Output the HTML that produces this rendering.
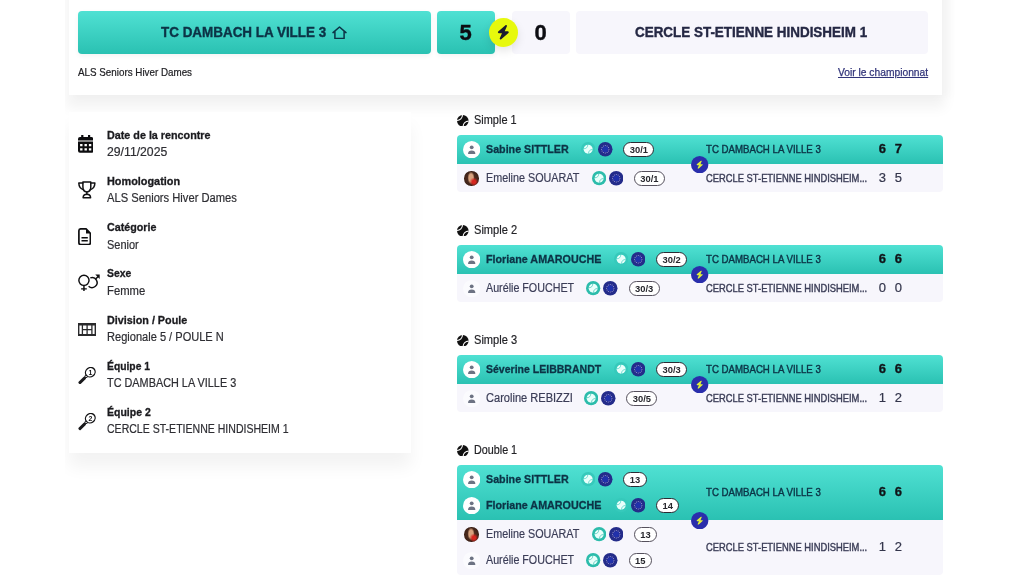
<!DOCTYPE html>
<html lang="fr">
<head>
<meta charset="utf-8">
<title>Rencontre</title>
<style>
*{box-sizing:border-box;margin:0;padding:0}
html,body{width:1024px;height:586px;overflow:hidden;background:#fff}
body{font-family:"Liberation Sans",sans-serif;position:relative}
.abs{position:absolute}
.grp{position:absolute;left:0;top:0;width:0;height:0}
h1,h3,b,strong,small,a{font:inherit}
.tx{white-space:nowrap;line-height:normal;transform-origin:0 0}
.clip{left:64.5px;top:0;width:890px;height:586px;overflow:hidden}
.topcard{left:4.1px;top:-30px;width:873.6px;height:124.5px;background:#fff;box-shadow:0 10px 12px 3px rgba(0,0,0,.05),8px 0 8px 2px rgba(0,0,0,.02)}
.leftcard{left:4.1px;top:112.1px;width:342px;height:341.3px;background:#fff;box-shadow:0 14px 16px 0 rgba(0,0,0,.05)}
.grad{background:linear-gradient(180deg,#50e1d3 0%,#2ac1b2 100%)}
.light{background:#f7f6fc}
.tbox{top:10.8px;height:42.8px;border-radius:4px}
.sh{box-shadow:0 2px 5px rgba(0,0,0,.05)}
.vsbig{left:488.6px;top:17.6px;width:29.6px;height:29.6px;border-radius:50%;background:#e7f90d;box-shadow:0 4px 10px rgba(0,0,0,.10)}
.pill{border:1px solid #333;border-radius:8px;background:#fff;font-size:9.4px;font-weight:bold;color:#26262c;text-align:center;line-height:13.4px;letter-spacing:0}
</style>
</head>
<body>
<div class="abs clip"><div class="abs topcard"></div><div class="abs leftcard"></div></div>
<header class="grp scoreboard">
<div class="abs tbox grad sh" style="left:78px;width:353px"></div>
<h1 class="abs tx" style="left:161.20px;top:23.00px;font-size:15px;font-weight:bold;color:#0c3346;transform:scaleX(0.8957);-webkit-text-stroke:0.4px #0c3346;">TC DAMBACH LA VILLE 3</h1>
<svg class="abs" style="left:332.4px;top:25.6px" width="15" height="13.4" viewBox="0 0 15 13.4"><path d="M1 6.6 7.5 1 14 6.6M2.9 5.4v7.1h9.2V5.4" fill="none" stroke="#0c3346" stroke-width="1.5" stroke-linejoin="round" stroke-linecap="round"/></svg>
<div class="abs tbox grad sh" style="left:437px;width:57.5px"></div>
<strong class="abs tx" style="left:459.60px;top:20.00px;font-size:22px;font-weight:bold;color:#0d0d12;-webkit-text-stroke:0.4px #0d0d12;">5</strong>
<div class="abs tbox light" style="left:512px;width:58px"></div>
<strong class="abs tx" style="left:534.60px;top:20.00px;font-size:22px;font-weight:bold;color:#0d0d12;-webkit-text-stroke:0.4px #0d0d12;">0</strong>
<div class="abs vsbig"></div>
<svg class="abs" style="left:496.9px;top:25.2px" width="12.7" height="14.5" viewBox="0 0 448 512"><path d="M349.4 44.600c5.900-13.700 1.500-29.700-10.600-38.500s-28.600-8-39.900 1.800l-256 224c-10 8.800-13.600 22.900-8.900 35.300S50.700 288 64 288H175.500L98.600 467.400c-5.900 13.700-1.500 29.700 10.600 38.500s28.600 8 39.900-1.800l256-224c10-8.800 13.600-22.900 8.900-35.300s-16.600-20.700-30-20.700H272.500L349.400 44.600z" fill="#1b1b2f"/></svg>
<div class="abs tbox light" style="left:576px;width:352px"></div>
<h1 class="abs tx" style="left:635.00px;top:23.00px;font-size:15px;font-weight:bold;color:#252844;transform:scaleX(0.8955);-webkit-text-stroke:0.4px #252844;">CERCLE ST-ETIENNE HINDISHEIM 1</h1>
<small class="abs tx" style="left:77.90px;top:66.00px;font-size:10.5px;font-weight:normal;color:#202024;transform:scaleX(0.9350);-webkit-text-stroke:0.2px #202024;">ALS Seniors Hiver Dames</small>
<a class="abs tx" style="left:837.80px;top:66.00px;font-size:10.5px;font-weight:normal;color:#32357a;transform:scaleX(0.9772);text-decoration:underline;text-underline-offset:1px;-webkit-text-stroke:.25px #32357a">Voir le championnat</a>
</header>
<aside class="grp details">
<div class="grp info">
<svg class="abs" style="left:78px;top:135px" width="15.4" height="17.8" viewBox="0 0 15.4 17.8"><path d="M3.2 0h2.200v2.100h4.600V0h2.200v2.100h1.200a2 2 0 0 1 2 2v1.300H0V4.100a2 2 0 0 1 2-2h1.200zM0 6.5h15.4v9.3a2 2 0 0 1-2 2H2a2 2 0 0 1-2-2zM2.1 9v2.3h2.4V9zm4.4 0v2.3h2.4V9zm4.4 0v2.3h2.4V9zM2.1 13.2v2.3h2.4v-2.3zm4.4 0v2.3h2.4v-2.3zm4.4 0v2.3h2.4v-2.3z" fill="#0c0c0e" fill-rule="evenodd"/></svg>
<b class="abs tx" style="left:107.10px;top:128.00px;font-size:11.8px;font-weight:bold;color:#1b1b1f;transform:scaleX(0.9125);-webkit-text-stroke:0.32px #1b1b1f;">Date de la rencontre</b>
<span class="abs tx" style="left:107.10px;top:145.00px;font-size:12px;font-weight:normal;color:#2e2e33;transform:scaleX(1.0186);-webkit-text-stroke:0.2px #2e2e33;">29/11/2025</span>
</div>
<div class="grp info">
<svg class="abs" style="left:78px;top:181.4px" width="17.6" height="17.6" viewBox="0 0 17.6 17.6"><g fill="none" stroke="#111113" stroke-width="1.5" stroke-linejoin="round" stroke-linecap="round"><path d="M4.9.9h7.9v4.9c0 3-1.6 5.1-3.95 5.1S4.9 8.800 4.900 5.800z"/><path d="M4.900 2.100H.8c.1 3.400 1.700 5.800 4.700 6.600M12.800 2.100h4.100c-.1 3.400-1.700 5.800-4.700 6.600"/><path d="M8.850 10.900v2.500"/><path d="M5.100 16.800c.1-2 1.700-3.500 3.750-3.500s3.650 1.500 3.750 3.500z"/></g></svg>
<b class="abs tx" style="left:107.10px;top:174.00px;font-size:11.8px;font-weight:bold;color:#1b1b1f;transform:scaleX(0.9218);-webkit-text-stroke:0.32px #1b1b1f;">Homologation</b>
<span class="abs tx" style="left:107.10px;top:191.00px;font-size:12px;font-weight:normal;color:#2e2e33;transform:scaleX(0.9320);-webkit-text-stroke:0.2px #2e2e33;">ALS Seniors Hiver Dames</span>
</div>
<div class="grp info">
<svg class="abs" style="left:78px;top:227.6px" width="13.4" height="17.6" viewBox="0 0 13.4 17.6"><path d="M2.600.95h5.500l4.300 4.300v9.400a2 2 0 0 1-2 2H2.900a2 2 0 0 1-2-2V2.850a1.900 1.900 0 0 1 1.700-1.900z" fill="none" stroke="#0e0e10" stroke-width="1.7" stroke-linejoin="round"/><path d="M8 1v4.400h4.400z" fill="#0e0e10"/><path d="M3.500 9.700h6.300M3.500 12.800h6.300" stroke="#0e0e10" stroke-width="1.5" fill="none"/></svg>
<b class="abs tx" style="left:107.10px;top:220.00px;font-size:11.8px;font-weight:bold;color:#1b1b1f;transform:scaleX(0.9079);-webkit-text-stroke:0.32px #1b1b1f;">Catégorie</b>
<span class="abs tx" style="left:107.10px;top:238.00px;font-size:12px;font-weight:normal;color:#2e2e33;transform:scaleX(0.9138);-webkit-text-stroke:0.2px #2e2e33;">Senior</span>
</div>
<div class="grp info">
<svg class="abs" style="left:78px;top:273.6px" width="22.6" height="17.6" viewBox="0 0 22.600 17.600"><g fill="none" stroke="#0e0e10" stroke-width="1.45"><circle cx="5.950" cy="6.300" r="5.100"/><path d="M5.950 11.400v5.900M3.100 14.900h5.700"/><path d="M12.300 3.900a5 5 0 1 1-1.700 8.300"/><path d="M17.700 4.900 20.600 1.900"/></g><path d="M17.300.6h4.400v4.500z" fill="#0e0e10"/></svg>
<b class="abs tx" style="left:107.10px;top:266.00px;font-size:11.8px;font-weight:bold;color:#1b1b1f;transform:scaleX(0.8860);-webkit-text-stroke:0.32px #1b1b1f;">Sexe</b>
<span class="abs tx" style="left:107.10px;top:284.00px;font-size:12px;font-weight:normal;color:#2e2e33;transform:scaleX(0.9391);-webkit-text-stroke:0.2px #2e2e33;">Femme</span>
</div>
<div class="grp info">
<svg class="abs" style="left:77.800px;top:322.600px" width="18" height="13.300" viewBox="0 0 18 13.300"><rect x=".7" y="1.200" width="16.600" height="10.900" fill="none" stroke="#2a2a2c" stroke-width="1.400"/><path d="M0 1.200h18M0 12.100h18" stroke="#2a2a2c" stroke-width="2.400"/><path d="M4.400 1v11.300M9.100 1v11.300M13.900 1v11.300M4.400 6.650h9.500" stroke="#2a2a2c" stroke-width="1.300" fill="none"/></svg>
<b class="abs tx" style="left:107.10px;top:313.00px;font-size:11.8px;font-weight:bold;color:#1b1b1f;transform:scaleX(0.9130);-webkit-text-stroke:0.32px #1b1b1f;">Division / Poule</b>
<span class="abs tx" style="left:107.10px;top:330.00px;font-size:12px;font-weight:normal;color:#2e2e33;transform:scaleX(0.9217);-webkit-text-stroke:0.2px #2e2e33;">Regionale 5 / POULE N</span>
</div>
<div class="grp info">
<svg class="abs" style="left:78px;top:367px" width="18.400" height="17.400" viewBox="0 0 18.400 17.400"><ellipse cx="12.300" cy="5.200" rx="5.000" ry="4.500" transform="rotate(-40 12.300 5.200)" fill="none" stroke="#121214" stroke-width="1.300"/><path d="M7.500 8.000 6.300 11.300 9.600 10.000" fill="none" stroke="#121214" stroke-width="1.000" stroke-linejoin="round"/><path d="M6.500 11.100 1.900 15.600" stroke="#1a1a1c" stroke-width="2.900" stroke-linecap="round"/><text x="12.300" y="7.600" font-size="6.900" font-weight="bold" text-anchor="middle" fill="#121214">1</text></svg>
<b class="abs tx" style="left:107.10px;top:359.00px;font-size:11.8px;font-weight:bold;color:#1b1b1f;transform:scaleX(0.8750);-webkit-text-stroke:0.32px #1b1b1f;">Équipe 1</b>
<span class="abs tx" style="left:107.10px;top:376.00px;font-size:12px;font-weight:normal;color:#2e2e33;transform:scaleX(0.9053);-webkit-text-stroke:0.2px #2e2e33;">TC DAMBACH LA VILLE 3</span>
</div>
<div class="grp info">
<svg class="abs" style="left:78px;top:413.2px" width="18.400" height="17.400" viewBox="0 0 18.400 17.400"><ellipse cx="12.300" cy="5.200" rx="5.000" ry="4.500" transform="rotate(-40 12.300 5.200)" fill="none" stroke="#121214" stroke-width="1.300"/><path d="M7.500 8.000 6.300 11.300 9.600 10.000" fill="none" stroke="#121214" stroke-width="1.000" stroke-linejoin="round"/><path d="M6.500 11.100 1.900 15.600" stroke="#1a1a1c" stroke-width="2.900" stroke-linecap="round"/><text x="12.300" y="7.600" font-size="6.900" font-weight="bold" text-anchor="middle" fill="#121214">2</text></svg>
<b class="abs tx" style="left:107.10px;top:405.00px;font-size:11.8px;font-weight:bold;color:#1b1b1f;transform:scaleX(0.8891);-webkit-text-stroke:0.32px #1b1b1f;">Équipe 2</b>
<span class="abs tx" style="left:107.10px;top:422.00px;font-size:12px;font-weight:normal;color:#2e2e33;transform:scaleX(0.8786);-webkit-text-stroke:0.2px #2e2e33;">CERCLE ST-ETIENNE HINDISHEIM 1</span>
</div>
</aside>
<main class="grp matches">
<section class="grp match">
<svg class="abs" style="left:457px;top:114.9px" width="11.6" height="11.6" viewBox="0 0 24 24"><circle cx="12" cy="12" r="12" fill="#111"/><path d="M11.3 0A11.3 11.3 0 0 1 0 11.3M24 12.7A11.3 11.3 0 0 0 12.7 24" fill="none" stroke="#fff" stroke-width="2.2"/></svg>
<h3 class="abs tx" style="left:474.40px;top:113.00px;font-size:12px;font-weight:normal;color:#232327;transform:scaleX(0.9125);-webkit-text-stroke:0.2px #232327;">Simple 1</h3>
<div class="abs grad" style="left:457px;top:135.1px;width:485.6px;height:28.8px;border-radius:4px 4px 0 0"></div>
<div class="abs light" style="left:457px;top:163.9px;width:485.6px;height:28.4px;border-radius:0 0 4px 4px"></div>
<span class="abs tx" style="left:486.00px;top:142.00px;font-size:11.8px;font-weight:bold;color:#0c3346;transform:scaleX(0.9073);-webkit-text-stroke:0.32px #0c3346;">Sabine SITTLER</span>
<svg class="abs" style="left:462.7px;top:140.70000000000002px" width="17.4" height="17.4" viewBox="0 0 17.4 17.4"><circle cx="8.7" cy="8.7" r="8.7" fill="#fff"/><circle cx="8.7" cy="6.3" r="1.9" fill="#6d7383"/><path d="M5.1 12.4c0-2 1.3-3 3.6-3s3.6 1 3.6 3v.5H5.1z" fill="#6d7383"/></svg>
<svg class="abs" style="left:581.15px;top:142.25px" width="14.3" height="14.3" viewBox="0 0 14.3 14.3"><circle cx="7.15" cy="7.15" r="7.15" fill="#36c9bb"/><circle cx="7.15" cy="7.15" r="4.5" fill="#e9fffb"/><path d="M6.8 2.6A4.3 4.3 0 0 1 2.6 6.8M11.7 7.5A4.3 4.3 0 0 0 7.5 11.7" fill="none" stroke="#36c9bb" stroke-width=".8" opacity=".8"/></svg>
<svg class="abs" style="left:598.0999999999999px;top:142.15px" width="14.5" height="14.5" viewBox="0 0 14.5 14.5"><circle cx="7.25" cy="7.25" r="7.25" fill="#242c8a"/><circle cx="7.25" cy="7.25" r="3.0" fill="#2131ab"/><circle cx="7.25" cy="3.55" r=".5" fill="#a9a4e0"/><circle cx="9.10" cy="4.05" r=".5" fill="#a9a4e0"/><circle cx="10.45" cy="5.40" r=".5" fill="#a9a4e0"/><circle cx="10.95" cy="7.25" r=".5" fill="#a9a4e0"/><circle cx="10.45" cy="9.10" r=".5" fill="#a9a4e0"/><circle cx="9.10" cy="10.45" r=".5" fill="#a9a4e0"/><circle cx="7.25" cy="10.95" r=".5" fill="#a9a4e0"/><circle cx="5.40" cy="10.45" r=".5" fill="#a9a4e0"/><circle cx="4.05" cy="9.10" r=".5" fill="#a9a4e0"/><circle cx="3.55" cy="7.25" r=".5" fill="#a9a4e0"/><circle cx="4.05" cy="5.40" r=".5" fill="#a9a4e0"/><circle cx="5.40" cy="4.05" r=".5" fill="#a9a4e0"/></svg>
<div class="abs pill" style="left:623.3px;top:141.7px;width:31.2px;height:15.4px;border-color:#2b2b33">30/1</div>
<span class="abs tx" style="left:486.00px;top:171.00px;font-size:12px;font-weight:normal;color:#3b3d57;transform:scaleX(0.8988);-webkit-text-stroke:0.2px #3b3d57;">Emeline SOUARAT</span>
<div class="abs" style="left:464.15px;top:171.25px;width:14.5px;height:14.5px;border-radius:50%;background:radial-gradient(circle at 66% 72%,#d8261f 0 11%,rgba(216,38,31,0) 30%),radial-gradient(ellipse 24% 42% at 47% 46%,#d8a27e 0 60%,rgba(216,162,126,0) 100%),radial-gradient(circle at 50% 50%,#4a291c 0 45%,#2a1711 100%)"></div>
<svg class="abs" style="left:591.65px;top:171.25px" width="14.3" height="14.3" viewBox="0 0 14.3 14.3"><circle cx="7.15" cy="7.15" r="7.15" fill="#2cbcab"/><circle cx="7.15" cy="7.15" r="4.5" fill="#e9fffb"/><path d="M6.8 2.6A4.3 4.3 0 0 1 2.6 6.8M11.7 7.5A4.3 4.3 0 0 0 7.5 11.7" fill="none" stroke="#2cbcab" stroke-width=".8" opacity=".8"/></svg>
<svg class="abs" style="left:608.5999999999999px;top:171.15px" width="14.5" height="14.5" viewBox="0 0 14.5 14.5"><circle cx="7.25" cy="7.25" r="7.25" fill="#242c8a"/><circle cx="7.25" cy="7.25" r="3.0" fill="#2131ab"/><circle cx="7.25" cy="3.55" r=".5" fill="#a9a4e0"/><circle cx="9.10" cy="4.05" r=".5" fill="#a9a4e0"/><circle cx="10.45" cy="5.40" r=".5" fill="#a9a4e0"/><circle cx="10.95" cy="7.25" r=".5" fill="#a9a4e0"/><circle cx="10.45" cy="9.10" r=".5" fill="#a9a4e0"/><circle cx="9.10" cy="10.45" r=".5" fill="#a9a4e0"/><circle cx="7.25" cy="10.95" r=".5" fill="#a9a4e0"/><circle cx="5.40" cy="10.45" r=".5" fill="#a9a4e0"/><circle cx="4.05" cy="9.10" r=".5" fill="#a9a4e0"/><circle cx="3.55" cy="7.25" r=".5" fill="#a9a4e0"/><circle cx="4.05" cy="5.40" r=".5" fill="#a9a4e0"/><circle cx="5.40" cy="4.05" r=".5" fill="#a9a4e0"/></svg>
<div class="abs pill" style="left:633.8px;top:170.7px;width:31.2px;height:15.4px;border-color:#55505c">30/1</div>
<span class="abs tx" style="left:705.60px;top:143.00px;font-size:10.5px;font-weight:normal;color:#0c3346;transform:scaleX(0.9195);-webkit-text-stroke:.4px #0c3346">TC DAMBACH LA VILLE 3</span>
<span class="abs tx" style="left:705.60px;top:172.00px;font-size:10.5px;font-weight:normal;color:#3b3d57;transform:scaleX(0.8914);-webkit-text-stroke:.4px #3b3d57">CERCLE ST-ETIENNE HINDISHEIM...</span>
<span class="abs tx" style="left:878.80px;top:141.00px;font-size:13px;font-weight:bold;color:#101418;-webkit-text-stroke:0.32px #101418;">6</span>
<span class="abs tx" style="left:894.80px;top:141.00px;font-size:13px;font-weight:bold;color:#101418;-webkit-text-stroke:0.32px #101418;">7</span>
<span class="abs tx" style="left:878.80px;top:170.00px;font-size:13px;font-weight:normal;color:#34364c;-webkit-text-stroke:0.2px #34364c;">3</span>
<span class="abs tx" style="left:894.80px;top:170.00px;font-size:13px;font-weight:normal;color:#34364c;-webkit-text-stroke:0.2px #34364c;">5</span>
<svg class="abs" style="left:691.1999999999999px;top:155.50000000000003px" width="17.4" height="17.4" viewBox="0 0 17.4 17.4"><circle cx="8.7" cy="8.7" r="8.7" fill="#2a2eac"/><svg x="5.1" y="4.5" width="7.2" height="8.3" viewBox="0 0 448 512"><path d="M349.4 44.600c5.900-13.700 1.500-29.700-10.600-38.500s-28.600-8-39.900 1.800l-256 224c-10 8.800-13.600 22.900-8.900 35.300S50.700 288 64 288H175.500L98.600 467.400c-5.900 13.700-1.500 29.700 10.600 38.500s28.600 8 39.900-1.800l256-224c10-8.800 13.600-22.900 8.900-35.300s-16.600-20.700-30-20.700H272.500L349.400 44.600z" fill="#dff23a"/></svg></svg>
</section>
<section class="grp match">
<svg class="abs" style="left:457px;top:224.9px" width="11.6" height="11.6" viewBox="0 0 24 24"><circle cx="12" cy="12" r="12" fill="#111"/><path d="M11.3 0A11.3 11.3 0 0 1 0 11.3M24 12.7A11.3 11.3 0 0 0 12.7 24" fill="none" stroke="#fff" stroke-width="2.2"/></svg>
<h3 class="abs tx" style="left:474.40px;top:223.00px;font-size:12px;font-weight:normal;color:#232327;transform:scaleX(0.9231);-webkit-text-stroke:0.2px #232327;">Simple 2</h3>
<div class="abs grad" style="left:457px;top:245.1px;width:485.6px;height:28.8px;border-radius:4px 4px 0 0"></div>
<div class="abs light" style="left:457px;top:273.9px;width:485.6px;height:28.4px;border-radius:0 0 4px 4px"></div>
<span class="abs tx" style="left:486.00px;top:252.00px;font-size:11.8px;font-weight:bold;color:#0c3346;transform:scaleX(0.9106);-webkit-text-stroke:0.32px #0c3346;">Floriane AMAROUCHE</span>
<svg class="abs" style="left:462.7px;top:250.7px" width="17.4" height="17.4" viewBox="0 0 17.4 17.4"><circle cx="8.7" cy="8.7" r="8.7" fill="#fff"/><circle cx="8.7" cy="6.3" r="1.9" fill="#6d7383"/><path d="M5.1 12.4c0-2 1.3-3 3.6-3s3.6 1 3.6 3v.5H5.1z" fill="#6d7383"/></svg>
<svg class="abs" style="left:613.95px;top:252.25px" width="14.3" height="14.3" viewBox="0 0 14.3 14.3"><circle cx="7.15" cy="7.15" r="7.15" fill="#36c9bb"/><circle cx="7.15" cy="7.15" r="4.5" fill="#e9fffb"/><path d="M6.8 2.6A4.3 4.3 0 0 1 2.6 6.8M11.7 7.5A4.3 4.3 0 0 0 7.5 11.7" fill="none" stroke="#36c9bb" stroke-width=".8" opacity=".8"/></svg>
<svg class="abs" style="left:630.9px;top:252.14999999999998px" width="14.5" height="14.5" viewBox="0 0 14.5 14.5"><circle cx="7.25" cy="7.25" r="7.25" fill="#242c8a"/><circle cx="7.25" cy="7.25" r="3.0" fill="#2131ab"/><circle cx="7.25" cy="3.55" r=".5" fill="#a9a4e0"/><circle cx="9.10" cy="4.05" r=".5" fill="#a9a4e0"/><circle cx="10.45" cy="5.40" r=".5" fill="#a9a4e0"/><circle cx="10.95" cy="7.25" r=".5" fill="#a9a4e0"/><circle cx="10.45" cy="9.10" r=".5" fill="#a9a4e0"/><circle cx="9.10" cy="10.45" r=".5" fill="#a9a4e0"/><circle cx="7.25" cy="10.95" r=".5" fill="#a9a4e0"/><circle cx="5.40" cy="10.45" r=".5" fill="#a9a4e0"/><circle cx="4.05" cy="9.10" r=".5" fill="#a9a4e0"/><circle cx="3.55" cy="7.25" r=".5" fill="#a9a4e0"/><circle cx="4.05" cy="5.40" r=".5" fill="#a9a4e0"/><circle cx="5.40" cy="4.05" r=".5" fill="#a9a4e0"/></svg>
<div class="abs pill" style="left:656.1px;top:251.7px;width:31.2px;height:15.4px;border-color:#2b2b33">30/2</div>
<span class="abs tx" style="left:486.00px;top:281.00px;font-size:12px;font-weight:normal;color:#3b3d57;transform:scaleX(0.8928);-webkit-text-stroke:0.2px #3b3d57;">Aurélie FOUCHET</span>
<svg class="abs" style="left:462.7px;top:279.7px" width="17.4" height="17.4" viewBox="0 0 17.4 17.4"><circle cx="8.7" cy="8.7" r="8.7" fill="#fbfbfe"/><circle cx="8.7" cy="6.3" r="1.9" fill="#6d7383"/><path d="M5.1 12.4c0-2 1.3-3 3.6-3s3.6 1 3.6 3v.5H5.1z" fill="#6d7383"/></svg>
<svg class="abs" style="left:586.45px;top:281.25px" width="14.3" height="14.3" viewBox="0 0 14.3 14.3"><circle cx="7.15" cy="7.15" r="7.15" fill="#2cbcab"/><circle cx="7.15" cy="7.15" r="4.5" fill="#e9fffb"/><path d="M6.8 2.6A4.3 4.3 0 0 1 2.6 6.8M11.7 7.5A4.3 4.3 0 0 0 7.5 11.7" fill="none" stroke="#2cbcab" stroke-width=".8" opacity=".8"/></svg>
<svg class="abs" style="left:603.4px;top:281.15px" width="14.5" height="14.5" viewBox="0 0 14.5 14.5"><circle cx="7.25" cy="7.25" r="7.25" fill="#242c8a"/><circle cx="7.25" cy="7.25" r="3.0" fill="#2131ab"/><circle cx="7.25" cy="3.55" r=".5" fill="#a9a4e0"/><circle cx="9.10" cy="4.05" r=".5" fill="#a9a4e0"/><circle cx="10.45" cy="5.40" r=".5" fill="#a9a4e0"/><circle cx="10.95" cy="7.25" r=".5" fill="#a9a4e0"/><circle cx="10.45" cy="9.10" r=".5" fill="#a9a4e0"/><circle cx="9.10" cy="10.45" r=".5" fill="#a9a4e0"/><circle cx="7.25" cy="10.95" r=".5" fill="#a9a4e0"/><circle cx="5.40" cy="10.45" r=".5" fill="#a9a4e0"/><circle cx="4.05" cy="9.10" r=".5" fill="#a9a4e0"/><circle cx="3.55" cy="7.25" r=".5" fill="#a9a4e0"/><circle cx="4.05" cy="5.40" r=".5" fill="#a9a4e0"/><circle cx="5.40" cy="4.05" r=".5" fill="#a9a4e0"/></svg>
<div class="abs pill" style="left:628.6px;top:280.7px;width:31.2px;height:15.4px;border-color:#55505c">30/3</div>
<span class="abs tx" style="left:705.60px;top:253.00px;font-size:10.5px;font-weight:normal;color:#0c3346;transform:scaleX(0.9195);-webkit-text-stroke:.4px #0c3346">TC DAMBACH LA VILLE 3</span>
<span class="abs tx" style="left:705.60px;top:282.00px;font-size:10.5px;font-weight:normal;color:#3b3d57;transform:scaleX(0.8914);-webkit-text-stroke:.4px #3b3d57">CERCLE ST-ETIENNE HINDISHEIM...</span>
<span class="abs tx" style="left:878.80px;top:251.00px;font-size:13px;font-weight:bold;color:#101418;-webkit-text-stroke:0.32px #101418;">6</span>
<span class="abs tx" style="left:894.80px;top:251.00px;font-size:13px;font-weight:bold;color:#101418;-webkit-text-stroke:0.32px #101418;">6</span>
<span class="abs tx" style="left:878.80px;top:280.00px;font-size:13px;font-weight:normal;color:#34364c;-webkit-text-stroke:0.2px #34364c;">0</span>
<span class="abs tx" style="left:894.80px;top:280.00px;font-size:13px;font-weight:normal;color:#34364c;-webkit-text-stroke:0.2px #34364c;">0</span>
<svg class="abs" style="left:691.1999999999999px;top:265.5px" width="17.4" height="17.4" viewBox="0 0 17.4 17.4"><circle cx="8.7" cy="8.7" r="8.7" fill="#2a2eac"/><svg x="5.1" y="4.5" width="7.2" height="8.3" viewBox="0 0 448 512"><path d="M349.4 44.600c5.900-13.700 1.500-29.700-10.600-38.500s-28.600-8-39.900 1.800l-256 224c-10 8.800-13.600 22.900-8.900 35.300S50.700 288 64 288H175.500L98.600 467.400c-5.900 13.700-1.500 29.700 10.600 38.500s28.600 8 39.900-1.800l256-224c10-8.800 13.600-22.900 8.900-35.300s-16.600-20.700-30-20.700H272.500L349.400 44.600z" fill="#dff23a"/></svg></svg>
</section>
<section class="grp match">
<svg class="abs" style="left:457px;top:334.9px" width="11.6" height="11.6" viewBox="0 0 24 24"><circle cx="12" cy="12" r="12" fill="#111"/><path d="M11.3 0A11.3 11.3 0 0 1 0 11.3M24 12.7A11.3 11.3 0 0 0 12.7 24" fill="none" stroke="#fff" stroke-width="2.2"/></svg>
<h3 class="abs tx" style="left:474.40px;top:333.00px;font-size:12px;font-weight:normal;color:#232327;transform:scaleX(0.9231);-webkit-text-stroke:0.2px #232327;">Simple 3</h3>
<div class="abs grad" style="left:457px;top:355.1px;width:485.6px;height:28.8px;border-radius:4px 4px 0 0"></div>
<div class="abs light" style="left:457px;top:383.90000000000003px;width:485.6px;height:28.4px;border-radius:0 0 4px 4px"></div>
<span class="abs tx" style="left:486.00px;top:362.00px;font-size:11.8px;font-weight:bold;color:#0c3346;transform:scaleX(0.8920);-webkit-text-stroke:0.32px #0c3346;">Séverine LEIBBRANDT</span>
<svg class="abs" style="left:462.7px;top:360.7px" width="17.4" height="17.4" viewBox="0 0 17.4 17.4"><circle cx="8.7" cy="8.7" r="8.7" fill="#fff"/><circle cx="8.7" cy="6.3" r="1.9" fill="#6d7383"/><path d="M5.1 12.4c0-2 1.3-3 3.6-3s3.6 1 3.6 3v.5H5.1z" fill="#6d7383"/></svg>
<svg class="abs" style="left:613.95px;top:362.25px" width="14.3" height="14.3" viewBox="0 0 14.3 14.3"><circle cx="7.15" cy="7.15" r="7.15" fill="#36c9bb"/><circle cx="7.15" cy="7.15" r="4.5" fill="#e9fffb"/><path d="M6.8 2.6A4.3 4.3 0 0 1 2.6 6.8M11.7 7.5A4.3 4.3 0 0 0 7.5 11.7" fill="none" stroke="#36c9bb" stroke-width=".8" opacity=".8"/></svg>
<svg class="abs" style="left:630.9px;top:362.15px" width="14.5" height="14.5" viewBox="0 0 14.5 14.5"><circle cx="7.25" cy="7.25" r="7.25" fill="#242c8a"/><circle cx="7.25" cy="7.25" r="3.0" fill="#2131ab"/><circle cx="7.25" cy="3.55" r=".5" fill="#a9a4e0"/><circle cx="9.10" cy="4.05" r=".5" fill="#a9a4e0"/><circle cx="10.45" cy="5.40" r=".5" fill="#a9a4e0"/><circle cx="10.95" cy="7.25" r=".5" fill="#a9a4e0"/><circle cx="10.45" cy="9.10" r=".5" fill="#a9a4e0"/><circle cx="9.10" cy="10.45" r=".5" fill="#a9a4e0"/><circle cx="7.25" cy="10.95" r=".5" fill="#a9a4e0"/><circle cx="5.40" cy="10.45" r=".5" fill="#a9a4e0"/><circle cx="4.05" cy="9.10" r=".5" fill="#a9a4e0"/><circle cx="3.55" cy="7.25" r=".5" fill="#a9a4e0"/><circle cx="4.05" cy="5.40" r=".5" fill="#a9a4e0"/><circle cx="5.40" cy="4.05" r=".5" fill="#a9a4e0"/></svg>
<div class="abs pill" style="left:656.1px;top:361.7px;width:31.2px;height:15.4px;border-color:#2b2b33">30/3</div>
<span class="abs tx" style="left:486.00px;top:391.00px;font-size:12px;font-weight:normal;color:#3b3d57;transform:scaleX(0.9222);-webkit-text-stroke:0.2px #3b3d57;">Caroline REBIZZI</span>
<svg class="abs" style="left:462.7px;top:389.70000000000005px" width="17.4" height="17.4" viewBox="0 0 17.4 17.4"><circle cx="8.7" cy="8.7" r="8.7" fill="#fbfbfe"/><circle cx="8.7" cy="6.3" r="1.9" fill="#6d7383"/><path d="M5.1 12.4c0-2 1.3-3 3.6-3s3.6 1 3.6 3v.5H5.1z" fill="#6d7383"/></svg>
<svg class="abs" style="left:584.15px;top:391.25px" width="14.3" height="14.3" viewBox="0 0 14.3 14.3"><circle cx="7.15" cy="7.15" r="7.15" fill="#2cbcab"/><circle cx="7.15" cy="7.15" r="4.5" fill="#e9fffb"/><path d="M6.8 2.6A4.3 4.3 0 0 1 2.6 6.8M11.7 7.5A4.3 4.3 0 0 0 7.5 11.7" fill="none" stroke="#2cbcab" stroke-width=".8" opacity=".8"/></svg>
<svg class="abs" style="left:601.0999999999999px;top:391.15000000000003px" width="14.5" height="14.5" viewBox="0 0 14.5 14.5"><circle cx="7.25" cy="7.25" r="7.25" fill="#242c8a"/><circle cx="7.25" cy="7.25" r="3.0" fill="#2131ab"/><circle cx="7.25" cy="3.55" r=".5" fill="#a9a4e0"/><circle cx="9.10" cy="4.05" r=".5" fill="#a9a4e0"/><circle cx="10.45" cy="5.40" r=".5" fill="#a9a4e0"/><circle cx="10.95" cy="7.25" r=".5" fill="#a9a4e0"/><circle cx="10.45" cy="9.10" r=".5" fill="#a9a4e0"/><circle cx="9.10" cy="10.45" r=".5" fill="#a9a4e0"/><circle cx="7.25" cy="10.95" r=".5" fill="#a9a4e0"/><circle cx="5.40" cy="10.45" r=".5" fill="#a9a4e0"/><circle cx="4.05" cy="9.10" r=".5" fill="#a9a4e0"/><circle cx="3.55" cy="7.25" r=".5" fill="#a9a4e0"/><circle cx="4.05" cy="5.40" r=".5" fill="#a9a4e0"/><circle cx="5.40" cy="4.05" r=".5" fill="#a9a4e0"/></svg>
<div class="abs pill" style="left:626.3px;top:390.7px;width:31.2px;height:15.4px;border-color:#55505c">30/5</div>
<span class="abs tx" style="left:705.60px;top:363.00px;font-size:10.5px;font-weight:normal;color:#0c3346;transform:scaleX(0.9195);-webkit-text-stroke:.4px #0c3346">TC DAMBACH LA VILLE 3</span>
<span class="abs tx" style="left:705.60px;top:392.00px;font-size:10.5px;font-weight:normal;color:#3b3d57;transform:scaleX(0.8914);-webkit-text-stroke:.4px #3b3d57">CERCLE ST-ETIENNE HINDISHEIM...</span>
<span class="abs tx" style="left:878.80px;top:361.00px;font-size:13px;font-weight:bold;color:#101418;-webkit-text-stroke:0.32px #101418;">6</span>
<span class="abs tx" style="left:894.80px;top:361.00px;font-size:13px;font-weight:bold;color:#101418;-webkit-text-stroke:0.32px #101418;">6</span>
<span class="abs tx" style="left:878.80px;top:390.00px;font-size:13px;font-weight:normal;color:#34364c;-webkit-text-stroke:0.2px #34364c;">1</span>
<span class="abs tx" style="left:894.80px;top:390.00px;font-size:13px;font-weight:normal;color:#34364c;-webkit-text-stroke:0.2px #34364c;">2</span>
<svg class="abs" style="left:691.1999999999999px;top:375.50000000000006px" width="17.4" height="17.4" viewBox="0 0 17.4 17.4"><circle cx="8.7" cy="8.7" r="8.7" fill="#2a2eac"/><svg x="5.1" y="4.5" width="7.2" height="8.3" viewBox="0 0 448 512"><path d="M349.4 44.600c5.900-13.700 1.500-29.700-10.600-38.500s-28.600-8-39.900 1.800l-256 224c-10 8.800-13.600 22.900-8.900 35.300S50.700 288 64 288H175.500L98.600 467.400c-5.900 13.700-1.500 29.700 10.600 38.500s28.600 8 39.900-1.800l256-224c10-8.800 13.600-22.900 8.900-35.300s-16.600-20.700-30-20.700H272.500L349.400 44.600z" fill="#dff23a"/></svg></svg>
</section>
<section class="grp match">
<svg class="abs" style="left:457px;top:444.7px" width="11.6" height="11.6" viewBox="0 0 24 24"><circle cx="12" cy="12" r="12" fill="#111"/><path d="M11.3 0A11.3 11.3 0 0 1 0 11.3M24 12.7A11.3 11.3 0 0 0 12.7 24" fill="none" stroke="#fff" stroke-width="2.2"/></svg>
<h3 class="abs tx" style="left:474.40px;top:443.00px;font-size:12px;font-weight:normal;color:#232327;transform:scaleX(0.8974);-webkit-text-stroke:0.2px #232327;">Double 1</h3>
<div class="abs grad" style="left:457px;top:464.9px;width:485.6px;height:55.4px;border-radius:4px 4px 0 0"></div>
<div class="abs light" style="left:457px;top:520.3px;width:485.6px;height:54.4px;border-radius:0 0 4px 4px"></div>
<span class="abs tx" style="left:486.00px;top:472.00px;font-size:11.8px;font-weight:bold;color:#0c3346;transform:scaleX(0.9073);-webkit-text-stroke:0.32px #0c3346;">Sabine SITTLER</span>
<svg class="abs" style="left:462.7px;top:470.7px" width="17.4" height="17.4" viewBox="0 0 17.4 17.4"><circle cx="8.7" cy="8.7" r="8.7" fill="#fff"/><circle cx="8.7" cy="6.3" r="1.9" fill="#6d7383"/><path d="M5.1 12.4c0-2 1.3-3 3.6-3s3.6 1 3.6 3v.5H5.1z" fill="#6d7383"/></svg>
<svg class="abs" style="left:581.15px;top:472.25px" width="14.3" height="14.3" viewBox="0 0 14.3 14.3"><circle cx="7.15" cy="7.15" r="7.15" fill="#36c9bb"/><circle cx="7.15" cy="7.15" r="4.5" fill="#e9fffb"/><path d="M6.8 2.6A4.3 4.3 0 0 1 2.6 6.8M11.7 7.5A4.3 4.3 0 0 0 7.5 11.7" fill="none" stroke="#36c9bb" stroke-width=".8" opacity=".8"/></svg>
<svg class="abs" style="left:598.0999999999999px;top:472.15px" width="14.5" height="14.5" viewBox="0 0 14.5 14.5"><circle cx="7.25" cy="7.25" r="7.25" fill="#242c8a"/><circle cx="7.25" cy="7.25" r="3.0" fill="#2131ab"/><circle cx="7.25" cy="3.55" r=".5" fill="#a9a4e0"/><circle cx="9.10" cy="4.05" r=".5" fill="#a9a4e0"/><circle cx="10.45" cy="5.40" r=".5" fill="#a9a4e0"/><circle cx="10.95" cy="7.25" r=".5" fill="#a9a4e0"/><circle cx="10.45" cy="9.10" r=".5" fill="#a9a4e0"/><circle cx="9.10" cy="10.45" r=".5" fill="#a9a4e0"/><circle cx="7.25" cy="10.95" r=".5" fill="#a9a4e0"/><circle cx="5.40" cy="10.45" r=".5" fill="#a9a4e0"/><circle cx="4.05" cy="9.10" r=".5" fill="#a9a4e0"/><circle cx="3.55" cy="7.25" r=".5" fill="#a9a4e0"/><circle cx="4.05" cy="5.40" r=".5" fill="#a9a4e0"/><circle cx="5.40" cy="4.05" r=".5" fill="#a9a4e0"/></svg>
<div class="abs pill" style="left:623.3px;top:471.7px;width:23.3px;height:15.4px;border-color:#2b2b33">13</div>
<span class="abs tx" style="left:486.00px;top:498.00px;font-size:11.8px;font-weight:bold;color:#0c3346;transform:scaleX(0.9106);-webkit-text-stroke:0.32px #0c3346;">Floriane AMAROUCHE</span>
<svg class="abs" style="left:462.7px;top:496.7px" width="17.4" height="17.4" viewBox="0 0 17.4 17.4"><circle cx="8.7" cy="8.7" r="8.7" fill="#fff"/><circle cx="8.7" cy="6.3" r="1.9" fill="#6d7383"/><path d="M5.1 12.4c0-2 1.3-3 3.6-3s3.6 1 3.6 3v.5H5.1z" fill="#6d7383"/></svg>
<svg class="abs" style="left:613.95px;top:498.25px" width="14.3" height="14.3" viewBox="0 0 14.3 14.3"><circle cx="7.15" cy="7.15" r="7.15" fill="#36c9bb"/><circle cx="7.15" cy="7.15" r="4.5" fill="#e9fffb"/><path d="M6.8 2.6A4.3 4.3 0 0 1 2.6 6.8M11.7 7.5A4.3 4.3 0 0 0 7.5 11.7" fill="none" stroke="#36c9bb" stroke-width=".8" opacity=".8"/></svg>
<svg class="abs" style="left:630.9px;top:498.15px" width="14.5" height="14.5" viewBox="0 0 14.5 14.5"><circle cx="7.25" cy="7.25" r="7.25" fill="#242c8a"/><circle cx="7.25" cy="7.25" r="3.0" fill="#2131ab"/><circle cx="7.25" cy="3.55" r=".5" fill="#a9a4e0"/><circle cx="9.10" cy="4.05" r=".5" fill="#a9a4e0"/><circle cx="10.45" cy="5.40" r=".5" fill="#a9a4e0"/><circle cx="10.95" cy="7.25" r=".5" fill="#a9a4e0"/><circle cx="10.45" cy="9.10" r=".5" fill="#a9a4e0"/><circle cx="9.10" cy="10.45" r=".5" fill="#a9a4e0"/><circle cx="7.25" cy="10.95" r=".5" fill="#a9a4e0"/><circle cx="5.40" cy="10.45" r=".5" fill="#a9a4e0"/><circle cx="4.05" cy="9.10" r=".5" fill="#a9a4e0"/><circle cx="3.55" cy="7.25" r=".5" fill="#a9a4e0"/><circle cx="4.05" cy="5.40" r=".5" fill="#a9a4e0"/><circle cx="5.40" cy="4.05" r=".5" fill="#a9a4e0"/></svg>
<div class="abs pill" style="left:656.1px;top:497.7px;width:23.3px;height:15.4px;border-color:#2b2b33">14</div>
<span class="abs tx" style="left:486.00px;top:527.00px;font-size:12px;font-weight:normal;color:#3b3d57;transform:scaleX(0.8988);-webkit-text-stroke:0.2px #3b3d57;">Emeline SOUARAT</span>
<div class="abs" style="left:464.15px;top:527.25px;width:14.5px;height:14.5px;border-radius:50%;background:radial-gradient(circle at 66% 72%,#d8261f 0 11%,rgba(216,38,31,0) 30%),radial-gradient(ellipse 24% 42% at 47% 46%,#d8a27e 0 60%,rgba(216,162,126,0) 100%),radial-gradient(circle at 50% 50%,#4a291c 0 45%,#2a1711 100%)"></div>
<svg class="abs" style="left:591.65px;top:527.25px" width="14.3" height="14.3" viewBox="0 0 14.3 14.3"><circle cx="7.15" cy="7.15" r="7.15" fill="#2cbcab"/><circle cx="7.15" cy="7.15" r="4.5" fill="#e9fffb"/><path d="M6.8 2.6A4.3 4.3 0 0 1 2.6 6.8M11.7 7.5A4.3 4.3 0 0 0 7.5 11.7" fill="none" stroke="#2cbcab" stroke-width=".8" opacity=".8"/></svg>
<svg class="abs" style="left:608.5999999999999px;top:527.15px" width="14.5" height="14.5" viewBox="0 0 14.5 14.5"><circle cx="7.25" cy="7.25" r="7.25" fill="#242c8a"/><circle cx="7.25" cy="7.25" r="3.0" fill="#2131ab"/><circle cx="7.25" cy="3.55" r=".5" fill="#a9a4e0"/><circle cx="9.10" cy="4.05" r=".5" fill="#a9a4e0"/><circle cx="10.45" cy="5.40" r=".5" fill="#a9a4e0"/><circle cx="10.95" cy="7.25" r=".5" fill="#a9a4e0"/><circle cx="10.45" cy="9.10" r=".5" fill="#a9a4e0"/><circle cx="9.10" cy="10.45" r=".5" fill="#a9a4e0"/><circle cx="7.25" cy="10.95" r=".5" fill="#a9a4e0"/><circle cx="5.40" cy="10.45" r=".5" fill="#a9a4e0"/><circle cx="4.05" cy="9.10" r=".5" fill="#a9a4e0"/><circle cx="3.55" cy="7.25" r=".5" fill="#a9a4e0"/><circle cx="4.05" cy="5.40" r=".5" fill="#a9a4e0"/><circle cx="5.40" cy="4.05" r=".5" fill="#a9a4e0"/></svg>
<div class="abs pill" style="left:633.8px;top:526.7px;width:23.3px;height:15.4px;border-color:#55505c">13</div>
<span class="abs tx" style="left:486.00px;top:553.00px;font-size:12px;font-weight:normal;color:#3b3d57;transform:scaleX(0.8928);-webkit-text-stroke:0.2px #3b3d57;">Aurélie FOUCHET</span>
<svg class="abs" style="left:462.7px;top:551.6999999999999px" width="17.4" height="17.4" viewBox="0 0 17.4 17.4"><circle cx="8.7" cy="8.7" r="8.7" fill="#fbfbfe"/><circle cx="8.7" cy="6.3" r="1.9" fill="#6d7383"/><path d="M5.1 12.4c0-2 1.3-3 3.6-3s3.6 1 3.6 3v.5H5.1z" fill="#6d7383"/></svg>
<svg class="abs" style="left:586.45px;top:553.25px" width="14.3" height="14.3" viewBox="0 0 14.3 14.3"><circle cx="7.15" cy="7.15" r="7.15" fill="#2cbcab"/><circle cx="7.15" cy="7.15" r="4.5" fill="#e9fffb"/><path d="M6.8 2.6A4.3 4.3 0 0 1 2.6 6.8M11.7 7.5A4.3 4.3 0 0 0 7.5 11.7" fill="none" stroke="#2cbcab" stroke-width=".8" opacity=".8"/></svg>
<svg class="abs" style="left:603.4px;top:553.15px" width="14.5" height="14.5" viewBox="0 0 14.5 14.5"><circle cx="7.25" cy="7.25" r="7.25" fill="#242c8a"/><circle cx="7.25" cy="7.25" r="3.0" fill="#2131ab"/><circle cx="7.25" cy="3.55" r=".5" fill="#a9a4e0"/><circle cx="9.10" cy="4.05" r=".5" fill="#a9a4e0"/><circle cx="10.45" cy="5.40" r=".5" fill="#a9a4e0"/><circle cx="10.95" cy="7.25" r=".5" fill="#a9a4e0"/><circle cx="10.45" cy="9.10" r=".5" fill="#a9a4e0"/><circle cx="9.10" cy="10.45" r=".5" fill="#a9a4e0"/><circle cx="7.25" cy="10.95" r=".5" fill="#a9a4e0"/><circle cx="5.40" cy="10.45" r=".5" fill="#a9a4e0"/><circle cx="4.05" cy="9.10" r=".5" fill="#a9a4e0"/><circle cx="3.55" cy="7.25" r=".5" fill="#a9a4e0"/><circle cx="4.05" cy="5.40" r=".5" fill="#a9a4e0"/><circle cx="5.40" cy="4.05" r=".5" fill="#a9a4e0"/></svg>
<div class="abs pill" style="left:628.6px;top:552.7px;width:23.3px;height:15.4px;border-color:#55505c">15</div>
<span class="abs tx" style="left:705.60px;top:486.00px;font-size:10.5px;font-weight:normal;color:#0c3346;transform:scaleX(0.9195);-webkit-text-stroke:.4px #0c3346">TC DAMBACH LA VILLE 3</span>
<span class="abs tx" style="left:705.60px;top:541.00px;font-size:10.5px;font-weight:normal;color:#3b3d57;transform:scaleX(0.8914);-webkit-text-stroke:.4px #3b3d57">CERCLE ST-ETIENNE HINDISHEIM...</span>
<span class="abs tx" style="left:878.80px;top:484.00px;font-size:13px;font-weight:bold;color:#101418;-webkit-text-stroke:0.32px #101418;">6</span>
<span class="abs tx" style="left:894.80px;top:484.00px;font-size:13px;font-weight:bold;color:#101418;-webkit-text-stroke:0.32px #101418;">6</span>
<span class="abs tx" style="left:878.80px;top:539.00px;font-size:13px;font-weight:normal;color:#34364c;-webkit-text-stroke:0.2px #34364c;">1</span>
<span class="abs tx" style="left:894.80px;top:539.00px;font-size:13px;font-weight:normal;color:#34364c;-webkit-text-stroke:0.2px #34364c;">2</span>
<svg class="abs" style="left:691.1999999999999px;top:511.8999999999999px" width="17.4" height="17.4" viewBox="0 0 17.4 17.4"><circle cx="8.7" cy="8.7" r="8.7" fill="#2a2eac"/><svg x="5.1" y="4.5" width="7.2" height="8.3" viewBox="0 0 448 512"><path d="M349.4 44.600c5.900-13.700 1.500-29.700-10.600-38.500s-28.600-8-39.900 1.800l-256 224c-10 8.800-13.600 22.900-8.900 35.300S50.700 288 64 288H175.500L98.600 467.400c-5.900 13.700-1.500 29.700 10.600 38.500s28.600 8 39.900-1.800l256-224c10-8.800 13.600-22.900 8.900-35.300s-16.600-20.700-30-20.700H272.500L349.400 44.600z" fill="#dff23a"/></svg></svg>
</section>
</main>
</body>
</html>
